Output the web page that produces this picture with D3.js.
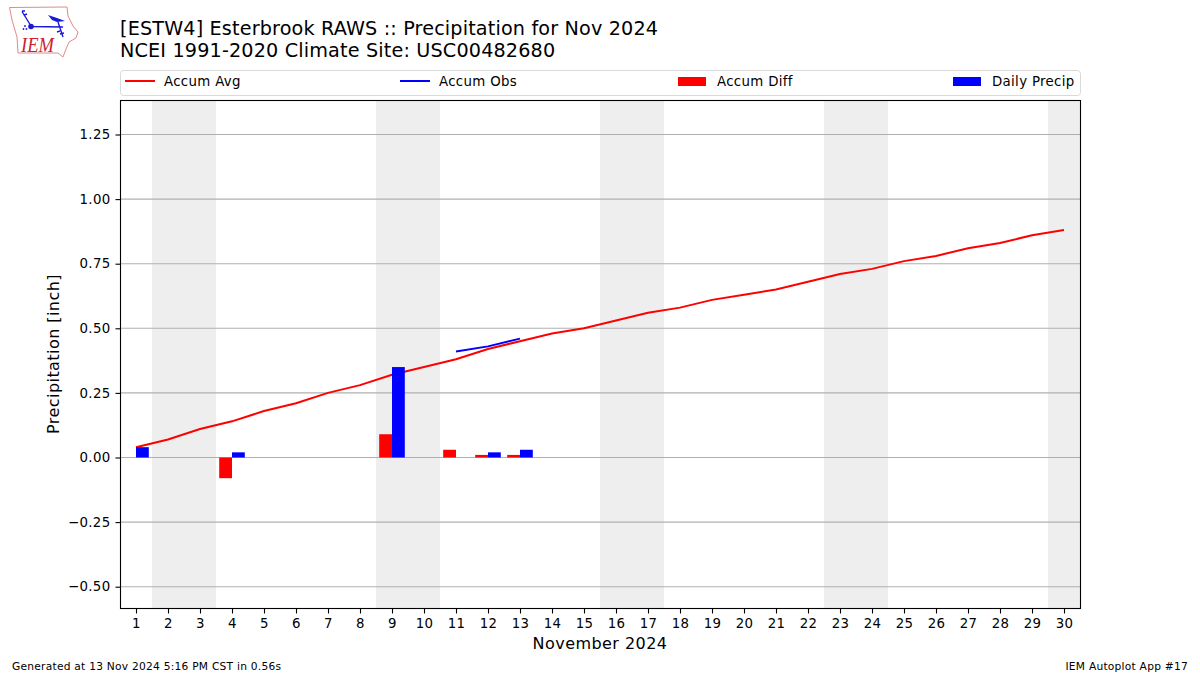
<!DOCTYPE html>
<html>
<head>
<meta charset="utf-8">
<script src="https://cdn.jsdelivr.net/npm/d3@7"></script>
<style>
body { margin: 0; background: #fff; }
svg { display: block; }
text { font-family: "DejaVu Sans", sans-serif; fill: #000; }
.small { font-size: 13.33px; letter-spacing: 0.33px; }
.label { font-size: 16px; letter-spacing: 0.44px; }
.title { font-size: 19.2px; letter-spacing: 0.16px; }
.foot { font-size: 10.67px; letter-spacing: 0.24px; }
</style>
</head>
<body>
<div id="chart"></div>
<script>
var days = d3.range(1, 31);
var accumAvg = [0.04, 0.07, 0.11, 0.14, 0.18, 0.21, 0.25, 0.28, 0.32, 0.35,
	0.38, 0.42, 0.45, 0.48, 0.50, 0.53, 0.56, 0.58, 0.61, 0.63,
	0.65, 0.68, 0.71, 0.73, 0.76, 0.78, 0.81, 0.83, 0.86, 0.88];
var obsDays = [11, 12, 13];
var accumObs = [0.41, 0.43, 0.46];
var diffDays = [4, 9, 11, 12, 13];
var accumDiff = [-0.08, 0.09, 0.03, 0.01, 0.01];
var precipDays = [1, 4, 9, 12, 13];
var dailyPrecip = [0.04, 0.02, 0.35, 0.02, 0.03];
var weekendStart = [1.5, 8.5, 15.5, 22.5, 29.5];
var weekendEnd = [3.5, 10.5, 17.5, 24.5, 30.5];
var yTicks = [-0.5, -0.25, 0, 0.25, 0.5, 0.75, 1, 1.25];

var width = 1200;
var height = 675;
var left = 120;
var right = 1080;
var top_ = 100;
var bottom = 608;
var barWidth = 0.4;

var svg = d3.select('#chart')
	.append('svg')
	.attr('width', width)
	.attr('height', height);

var x = d3.scaleLinear()
	.domain([0.5, 30.5])
	.range([left, right]);

var y = d3.scaleLinear()
	.domain([-0.5824, 1.3835])
	.range([bottom, top_]);

// weekend bands
svg.append('g').selectAll('rect')
	.data(weekendStart)
	.join('rect')
	.attr('x', function(d) { return x(d); })
	.attr('width', function(d, i) { return x(weekendEnd[i]) - x(d); })
	.attr('y', top_)
	.attr('height', bottom - top_)
	.attr('fill', '#eeeeee');

// grid
svg.append('g').selectAll('line')
	.data(yTicks)
	.join('line')
	.attr('x1', left)
	.attr('x2', right)
	.attr('y1', function(d) { return y(d); })
	.attr('y2', function(d) { return y(d); })
	.attr('stroke', '#b0b0b0')
	.attr('stroke-width', 1.1);

var line = d3.line()
	.x(function(d) { return x(d[0]); })
	.y(function(d) { return y(d[1]); });

svg.append('path')
	.attr('d', line(d3.zip(days, accumAvg)))
	.attr('fill', 'none')
	.attr('stroke', '#ff0000')
	.attr('stroke-width', 2);

svg.append('path')
	.attr('d', line(d3.zip(obsDays, accumObs)))
	.attr('fill', 'none')
	.attr('stroke', '#0000ff')
	.attr('stroke-width', 2);

// bars sit on top of the lines in the reference
svg.append('g').selectAll('rect')
	.data(accumDiff)
	.join('rect')
	.attr('x', function(d, i) { return x(diffDays[i] - barWidth); })
	.attr('width', x(barWidth) - x(0))
	.attr('y', function(d) { return y(Math.max(d, 0)); })
	.attr('height', function(d) { return Math.abs(y(d) - y(0)); })
	.attr('fill', '#ff0000');

svg.append('g').selectAll('rect')
	.data(dailyPrecip)
	.join('rect')
	.attr('x', function(d, i) { return x(precipDays[i]); })
	.attr('width', x(barWidth) - x(0))
	.attr('y', function(d) { return y(d); })
	.attr('height', function(d) { return y(0) - y(d); })
	.attr('fill', '#0000ff');

// axes
var xAxis = d3.axisBottom(x).tickValues(days).tickSize(5).tickPadding(5).tickFormat(d3.format('d'));
var yAxis = d3.axisLeft(y).tickValues(yTicks).tickSize(5).tickPadding(5).tickFormat(d3.format('.2f'));

svg.append('g')
	.attr('transform', 'translate(0,' + (bottom + 0.5) + ')')
	.call(xAxis)
	.call(function(g) { g.select('.domain').remove(); })
	.selectAll('text')
	.attr('class', 'small')
	.attr('font-size', null);

svg.append('g')
	.attr('transform', 'translate(' + (left + 0.5) + ',0)')
	.call(yAxis)
	.call(function(g) { g.select('.domain').remove(); })
	.selectAll('text')
	.attr('class', 'small')
	.attr('font-size', null);

svg.selectAll('.tick line').attr('stroke', '#000').attr('stroke-width', 1.1);

svg.append('rect')
	.attr('x', left + 0.5)
	.attr('y', top_ + 0.5)
	.attr('width', right - left)
	.attr('height', bottom - top_)
	.attr('fill', 'none')
	.attr('stroke', '#000')
	.attr('stroke-width', 1.1);

// labels
svg.append('text')
	.attr('class', 'label')
	.attr('x', 600)
	.attr('y', 649)
	.attr('text-anchor', 'middle')
	.text('November 2024');

svg.append('text')
	.attr('class', 'label')
	.attr('transform', 'translate(59,354) rotate(-90)')
	.attr('text-anchor', 'middle')
	.text('Precipitation [inch]');

svg.append('text')
	.attr('class', 'title')
	.attr('x', 120)
	.attr('y', 35)
	.text('[ESTW4] Esterbrook RAWS :: Precipitation for Nov 2024');

svg.append('text')
	.attr('class', 'title')
	.attr('x', 120)
	.attr('y', 57)
	.text('NCEI 1991-2020 Climate Site: USC00482680');

svg.append('text')
	.attr('class', 'foot')
	.attr('x', 12)
	.attr('y', 670)
	.text('Generated at 13 Nov 2024 5:16 PM CST in 0.56s');

svg.append('text')
	.attr('class', 'foot')
	.attr('x', 1188)
	.attr('y', 670)
	.attr('text-anchor', 'end')
	.text('IEM Autoplot App #17');

// legend
var legend = svg.append('g');
legend.append('rect')
	.attr('x', left + 0.5)
	.attr('y', 70.5)
	.attr('width', right - left)
	.attr('height', 25)
	.attr('rx', 3)
	.attr('fill', '#fff')
	.attr('stroke', '#d9d9d9');

legend.append('line').attr('x1', 125).attr('x2', 155).attr('y1', 81).attr('y2', 81).attr('stroke', '#ff0000').attr('stroke-width', 2);
legend.append('text').attr('class', 'small').attr('x', 164).attr('y', 86).text('Accum Avg');
legend.append('line').attr('x1', 400).attr('x2', 430).attr('y1', 81).attr('y2', 81).attr('stroke', '#0000ff').attr('stroke-width', 2);
legend.append('text').attr('class', 'small').attr('x', 439).attr('y', 86).text('Accum Obs');
legend.append('rect').attr('x', 678).attr('y', 77).attr('width', 28).attr('height', 9).attr('fill', '#ff0000');
legend.append('text').attr('class', 'small').attr('x', 717).attr('y', 86).text('Accum Diff');
legend.append('rect').attr('x', 953).attr('y', 77).attr('width', 28).attr('height', 9).attr('fill', '#0000ff');
legend.append('text').attr('class', 'small').attr('x', 992).attr('y', 86).text('Daily Precip');

// IEM logo
var logo = svg.append('g');
logo.append('path')
	.attr('d', 'M9.5,7.5 L67,7 L68,16 L73,26 L78,32 L76,38 L69,42 L66,49 L63,57 L58,53 L18,53 L17,37 L12,20 Z')
	.attr('fill', 'none')
	.attr('stroke', '#e08a8a')
	.attr('stroke-width', 1);
logo.append('path')
	.attr('d', 'M31,26.5 L63,27 M22,11.5 L31,26 M22,11 L25,11 M24,15 L27,14 M58,22 L63,37 M57,32 L60,31 M60,34 L64,33')
	.attr('fill', 'none')
	.attr('stroke', '#1a1ad6')
	.attr('stroke-width', 1.4);
logo.append('path')
	.attr('d', 'M48,15 L57,18 L65,21 L57,22 L52,20 Z')
	.attr('fill', '#1a1ad6');
logo.append('circle').attr('cx', 31).attr('cy', 26.5).attr('r', 2.8).attr('fill', '#1a1ad6');
logo.append('circle').attr('cx', 25).attr('cy', 26).attr('r', 0.9).attr('fill', '#1a1ad6');
logo.append('circle').attr('cx', 23.5).attr('cy', 29).attr('r', 0.9).attr('fill', '#1a1ad6');
logo.append('circle').attr('cx', 26.5).attr('cy', 29).attr('r', 0.9).attr('fill', '#1a1ad6');
logo.append('text')
	.attr('x', 21)
	.attr('y', 52)
	.attr('font-size', 20)
	.attr('font-style', 'italic')
	.attr('textLength', 33)
	.attr('lengthAdjust', 'spacingAndGlyphs')
	.style('font-family', '"Liberation Serif", serif')
	.style('fill', '#cc2233')
	.text('IEM');
</script>
</body>
</html>
